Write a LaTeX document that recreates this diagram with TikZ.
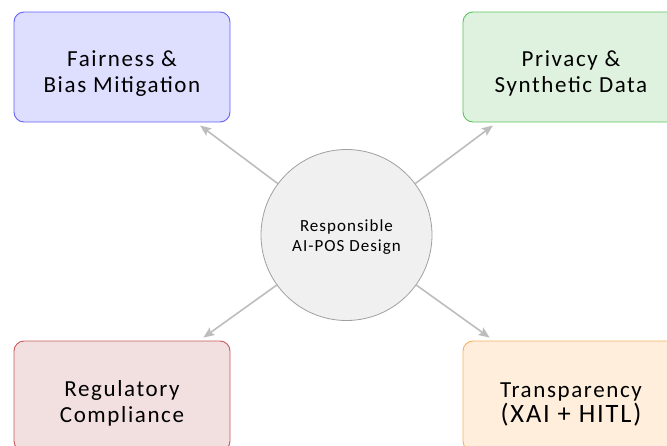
\documentclass[tikz,border=0pt]{standalone}
\usepackage{fontspec}
\setmainfont[LetterSpace=7]{Carlito}
\newfontfamily\hubfont[LetterSpace=6]{Carlito}
\usetikzlibrary{arrows.meta}
\definecolor{tlfill}{HTML}{DEDEFF}
\definecolor{tldraw}{HTML}{6464F8}
\definecolor{trfill}{HTML}{DFF2DF}
\definecolor{trdraw}{HTML}{5CC45C}
\definecolor{blfill}{HTML}{F2DFE0}
\definecolor{bldraw}{HTML}{C85A5E}
\definecolor{brfill}{HTML}{FFEEDC}
\definecolor{brdraw}{HTML}{F8B060}
\definecolor{cfill}{HTML}{F0F0F0}
\definecolor{cdraw}{HTML}{A0A0A0}
\definecolor{arr}{HTML}{BDBDBD}
\tikzset{
  topic/.style={rectangle, rounded corners=10pt, minimum width=216pt, minimum height=110pt,
    align=center, font=\fontsize{23}{26}\selectfont, line width=0.9pt, inner sep=0pt},
  hub/.style={circle, minimum size=171pt, fill=cfill, draw=cdraw, line width=0.8pt,
    align=center, font=\hubfont\fontsize{17}{20}\selectfont, inner sep=0pt},
  link/.style={draw=arr, line width=1.6pt, -{Stealth[length=11pt,width=9pt,inset=2pt]}, shorten >=5pt}
}
\begin{document}
\begin{tikzpicture}[x=1pt,y=-1pt]
\useasboundingbox (0,0) rectangle (667,445);
\node[hub] (c) at (346.5,235) {\rule{0pt}{15.5pt}Responsible\\AI-POS Design};
\node[topic, fill=tlfill, draw=tldraw] (tl) at (122,67) {\rule{0pt}{28.5pt}Fairness \&\\Bias Mitigation};
\node[topic, fill=trfill, draw=trdraw] (tr) at (571,67) {\rule{0pt}{28.5pt}Privacy \&\\Synthetic Data};
\node[topic, fill=blfill, draw=bldraw] (bl) at (122,396) {\rule{0pt}{31.5pt}Regulatory\\Compliance};
\node[topic, fill=brfill, draw=brdraw] (br) at (571,396) {\rule{0pt}{31.4pt}Transparency\\[-1pt]{\fontsize{26.5}{26}\selectfont (XAI + HITL)}};
\draw[link] (c) -- (tl);
\draw[link] (c) -- (tr);
\draw[link] (c) -- (bl);
\draw[link] (c) -- (br);
\end{tikzpicture}
\end{document}
